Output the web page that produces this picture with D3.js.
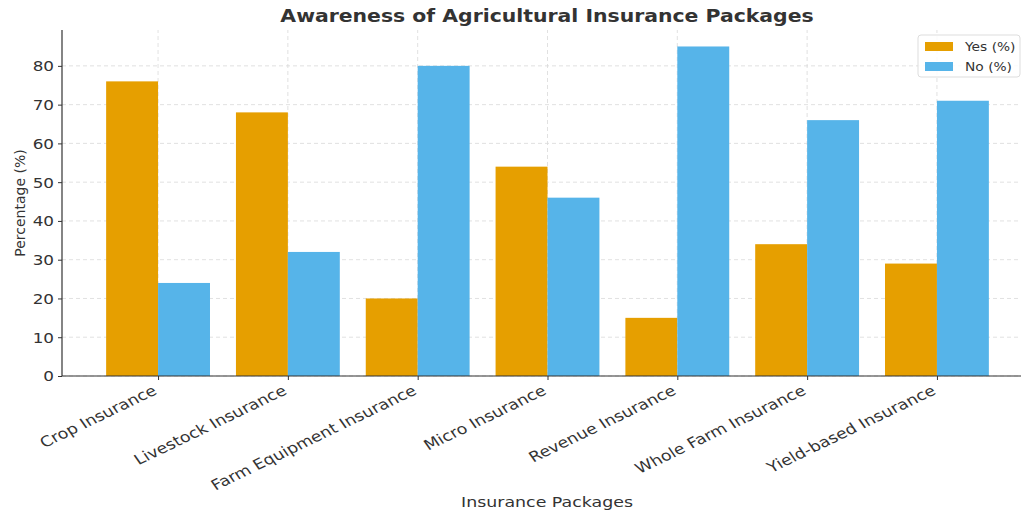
<!DOCTYPE html>
<html>
<head>
<meta charset="utf-8">
<script src="https://cdn.jsdelivr.net/npm/d3@7"></script>
<style>
  body { margin: 0; background: #fff; }
  svg { font-family: "DejaVu Sans", sans-serif; }
</style>
</head>
<body>
<div id="chart"></div>
<script>
// DATA ------------------------------------------------------------
var packages = ["Crop Insurance", "Livestock Insurance", "Farm Equipment Insurance",
  "Micro Insurance", "Revenue Insurance", "Whole Farm Insurance", "Yield-based Insurance"];
var yesValues = [76, 68, 20, 54, 15, 34, 29];
var noValues = [24, 32, 80, 46, 85, 66, 71];
var seriesNames = ["Yes (%)", "No (%)"];
var yTicks = [0, 10, 20, 30, 40, 50, 60, 70, 80];

// SVG size ------------------------------------------------------------
var width = 1021, height = 512;
var margin = {top: 30, right: -12, bottom: 136, left: 62};
var colors = {yes: "#E69F00", no: "#56B4E9", grid: "#d9d9d9", axis: "#333333"};
// the picture is a bit wider than tall, text looks stretched sideways
var sx = 1.2;

var svg = d3.select("#chart").append("svg")
  .attr("width", width)
  .attr("height", height);

// x: category index as a number, like matplotlib with margins
var barW = 0.4;
var x = d3.scaleLinear()
  .domain([-0.74, packages.length - 1 + 0.74])
  .range([margin.left, width - margin.right]);
var y = d3.scaleLinear()
  .domain([0, 85 * 1.05])
  .range([height - margin.bottom, margin.top]);

// grid
var grid = svg.append("g");
grid.selectAll("line.h").data(yTicks).enter().append("line")
  .attr("x1", margin.left).attr("x2", width)
  .attr("y1", function(d) { return y(d); }).attr("y2", function(d) { return y(d); })
  .style("stroke", colors.grid).style("stroke-dasharray", "4,3").style("stroke-width", 0.8);
grid.selectAll("line.v").data(packages).enter().append("line")
  .attr("x1", function(d, i) { return x(i); }).attr("x2", function(d, i) { return x(i); })
  .attr("y1", y.range()[0]).attr("y2", y.range()[1])
  .style("stroke", colors.grid).style("stroke-dasharray", "4,3").style("stroke-width", 0.8);

// bars
svg.selectAll("rect.yes").data(yesValues).enter().append("rect")
  .attr("x", function(d, i) { return x(i - barW); })
  .attr("width", x(barW) - x(0))
  .attr("y", function(d) { return y(d); })
  .attr("height", function(d) { return y(0) - y(d); })
  .style("fill", colors.yes);
svg.selectAll("rect.no").data(noValues).enter().append("rect")
  .attr("x", function(d, i) { return x(i); })
  .attr("width", x(barW) - x(0))
  .attr("y", function(d) { return y(d); })
  .attr("height", function(d) { return y(0) - y(d); })
  .style("fill", colors.no);

// axes
var yAxis = svg.append("g")
  .attr("transform", "translate(" + margin.left + ",0)")
  .call(d3.axisLeft(y).tickValues(yTicks).tickSize(4).tickPadding(5));
var xAxis = svg.append("g")
  .attr("transform", "translate(0," + y(0) + ")")
  .call(d3.axisBottom(x).tickValues(d3.range(packages.length))
    .tickFormat(function(i) { return packages[i]; }).tickSize(4));

[yAxis, xAxis].forEach(function(a) {
  a.select(".domain").style("stroke", colors.axis).style("stroke-width", 1.2);
  a.selectAll(".tick line").style("stroke", colors.axis);
  a.selectAll("text").style("fill", "#333").attr("font-size", "14px")
    .attr("font-family", "DejaVu Sans, sans-serif");
});
yAxis.select(".domain").attr("d", "M0," + y.range()[0] + "V" + y.range()[1]);
xAxis.select(".domain").attr("d", "M" + margin.left + ",0H" + width);

yAxis.selectAll(".tick text")
  .attr("x", 0).attr("dy", "0.35em")
  .attr("transform", "translate(-8,0) scale(" + sx + ",1)");

xAxis.selectAll(".tick text")
  .attr("text-anchor", "end")
  .attr("font-size", "14.5px")
  .attr("dy", "0.75em")
  .attr("transform", "translate(-7,8) scale(" + sx + ",1) rotate(-30)")
  .attr("x", 0).attr("y", 0);

// labels
svg.append("text")
  .attr("transform", "translate(547,22) scale(" + sx + ",1)")
  .attr("text-anchor", "middle")
  .attr("font-size", "17px").attr("font-weight", "bold")
  .style("fill", "#333")
  .text("Awareness of Agricultural Insurance Packages");

svg.append("text")
  .attr("transform", "translate(547,507) scale(" + sx + ",1)")
  .attr("text-anchor", "middle")
  .attr("font-size", "14.5px")
  .style("fill", "#333")
  .text("Insurance Packages");

svg.append("text")
  .attr("transform", "translate(25," + ((y.range()[0] + y.range()[1]) / 2) + ") rotate(-90)")
  .attr("text-anchor", "middle")
  .attr("font-size", "14px")
  .style("fill", "#333")
  .text("Percentage (%)");

// legend
var legend = svg.append("g").attr("transform", "translate(918,35)");
legend.append("rect")
  .attr("width", 102).attr("height", 42).attr("rx", 3)
  .style("fill", "#fff").style("fill-opacity", 0.85)
  .style("stroke", "#dddddd");
[colors.yes, colors.no].forEach(function(c, i) {
  legend.append("rect")
    .attr("x", 7).attr("y", 7 + i * 20)
    .attr("width", 28).attr("height", 9)
    .style("fill", c);
  legend.append("text")
    .attr("transform", "translate(47," + (16 + i * 20) + ") scale(" + sx + ",1)")
    .attr("font-size", "11.5px")
    .style("fill", "#333")
    .text(seriesNames[i]);
});
</script>
</body>
</html>
